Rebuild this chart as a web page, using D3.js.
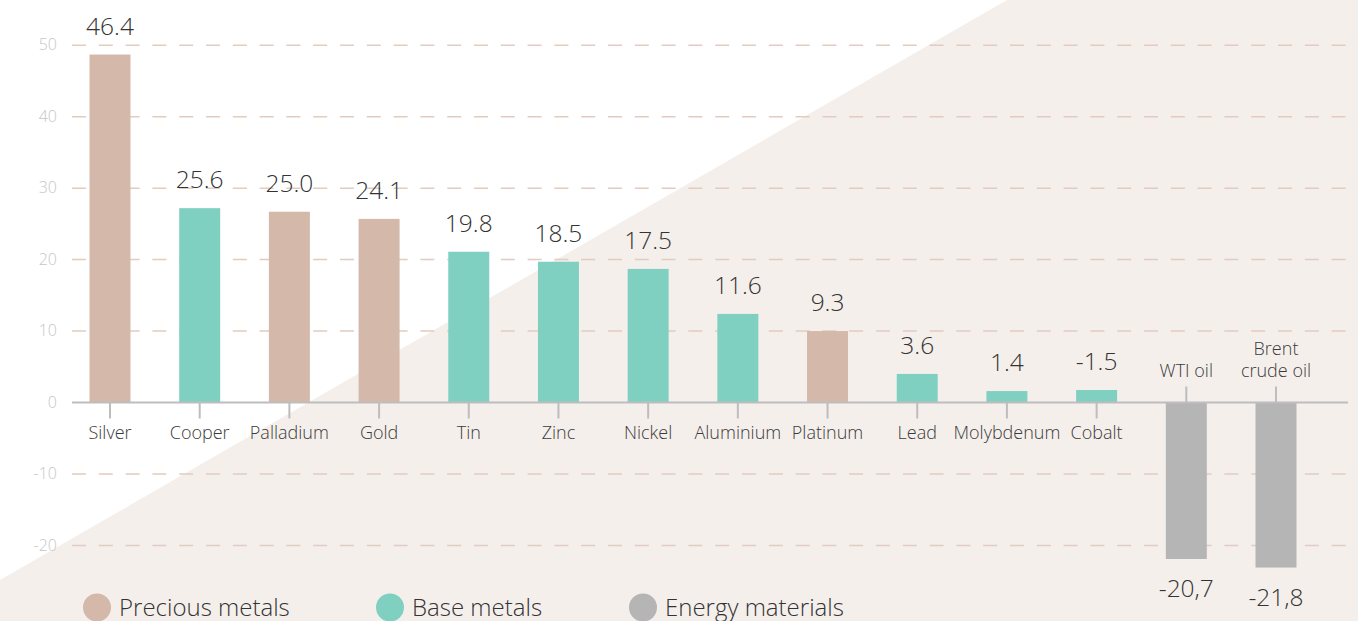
<!DOCTYPE html>
<html>
<head>
<meta charset="utf-8">
<script src="https://cdn.jsdelivr.net/npm/d3@7"></script>
<style>
  html, body { margin: 0; padding: 0; background: #fff; }
  svg { display: block; font-family: "Open Sans", sans-serif; font-weight: 300; }
</style>
</head>
<body>
<svg id="chart" width="1358" height="621"></svg>
<script>
const categories = ["Silver", "Cooper", "Palladium", "Gold", "Tin", "Zinc", "Nickel", "Aluminium", "Platinum", "Lead", "Molybdenum", "Cobalt", "WTI oil", "Brent crude oil"];
const groups = ["Precious metals", "Base metals", "Precious metals", "Precious metals", "Base metals", "Base metals", "Base metals", "Base metals", "Precious metals", "Base metals", "Base metals", "Base metals", "Energy materials", "Energy materials"];
const values = [48.7, 27.2, 26.7, 25.7, 21.1, 19.7, 18.7, 12.4, 10.0, 4.0, 1.6, 1.75, -21.9, -23.1];
const valueLabels = ["46.4", "25.6", "25.0", "24.1", "19.8", "18.5", "17.5", "11.6", "9.3", "3.6", "1.4", "-1.5", "-20,7", "-21,8"];
const yTicks = [-20, -10, 0, 10, 20, 30, 40, 50];
const legendNames = ["Precious metals", "Base metals", "Energy materials"];
const legendColors = ["#d4b8a9", "#80d0c1", "#b5b5b5"];

const svg = d3.select("#chart");
const W = 1358, H = 621;

// background diagonal
svg.append("polygon")
  .attr("points", [[0, 580], [1007, 0], [W, 0], [W, H], [0, H]].map(p => p.join(",")).join(" "))
  .attr("fill", "#f5efec");

const color = d3.scaleOrdinal().domain(legendNames).range(legendColors);

const c0 = 110, c1 = 1276;
const step = (c1 - c0) / (categories.length - 1);
const x = d3.scaleBand()
  .domain(categories)
  .range([c0 - step / 2, c1 + step / 2])
  .paddingInner(0.543)
  .paddingOuter(0.2715);

const y = d3.scaleLinear().domain([-20, 50]).range([545.4, 45.25]);

const left = 72, right = 1348;

// grid
svg.append("g").selectAll("line")
  .data(yTicks.filter(t => t !== 0))
  .join("line")
  .attr("x1", left).attr("x2", right)
  .attr("y1", d => y(d)).attr("y2", d => y(d))
  .attr("stroke", "#e2cbbf")
  .attr("stroke-width", 1.5)
  .attr("stroke-dasharray", "14,12.8");

// y axis labels
const yAxis = d3.axisLeft(y).tickValues(yTicks).tickSize(0).tickPadding(0).tickFormat(d => String(d));
const yg = svg.append("g").attr("transform", `translate(57,-1)`).call(yAxis);
yg.select(".domain").remove();
yg.selectAll("text")
  .attr("fill", "#c6c6c6")
  .attr("font-size", 16)
  .attr("font-family", "Open Sans, sans-serif")
  .attr("dy", "0.35em");

// bars
svg.append("g").selectAll("rect")
  .data(categories)
  .join("rect")
  .attr("x", d => x(d))
  .attr("width", x.bandwidth())
  .attr("y", (d, i) => y(Math.max(0, values[i])))
  .attr("height", (d, i) => Math.abs(y(values[i]) - y(0)))
  .attr("fill", (d, i) => color(groups[i]));

// zero axis line
svg.append("line")
  .attr("x1", left).attr("x2", right)
  .attr("y1", y(0)).attr("y2", y(0))
  .attr("stroke", "#bdbdbd").attr("stroke-width", 2);

// category ticks
svg.append("g").selectAll("line")
  .data(categories)
  .join("line")
  .attr("x1", d => x(d) + x.bandwidth() / 2)
  .attr("x2", d => x(d) + x.bandwidth() / 2)
  .attr("y1", y(0))
  .attr("y2", (d, i) => values[i] >= 0 ? y(0) + 16 : y(0) - 16)
  .attr("stroke", "#bdbdbd").attr("stroke-width", 2);

// category labels
const catG = svg.append("g").attr("font-size", 18).attr("fill", "#3a3a3a").attr("text-anchor", "middle");
categories.forEach((c, i) => {
  const cx = x(c) + x.bandwidth() / 2;
  if (values[i] >= 0) {
    catG.append("text").attr("x", cx).attr("y", y(0) + 36).text(c);
  } else {
    const words = c === "Brent crude oil" ? ["Brent", "crude oil"] : [c];
    words.forEach((w, k) => {
      catG.append("text").attr("x", cx).attr("y", y(0) - 26 - (words.length - 1 - k) * 22).text(w);
    });
  }
});

// value labels
svg.append("g").selectAll("text")
  .data(categories)
  .join("text")
  .attr("x", d => x(d) + x.bandwidth() / 2)
  .attr("y", (d, i) => values[i] >= 0 ? y(values[i]) - 20 : y(values[i]) + 38)
  .attr("text-anchor", "middle")
  .attr("font-size", 24.5)
  .attr("fill", "#333")
  .text((d, i) => valueLabels[i]);

// legend
const legendX = [97, 390, 643];
const lg = svg.append("g");
legendNames.forEach((n, i) => {
  lg.append("circle").attr("cx", legendX[i]).attr("cy", 607.5).attr("r", 14).attr("fill", legendColors[i]);
  lg.append("text").attr("x", legendX[i] + 22).attr("y", 615.5)
    .attr("font-size", 24).attr("fill", "#333").text(n);
});
</script>
</body>
</html>
